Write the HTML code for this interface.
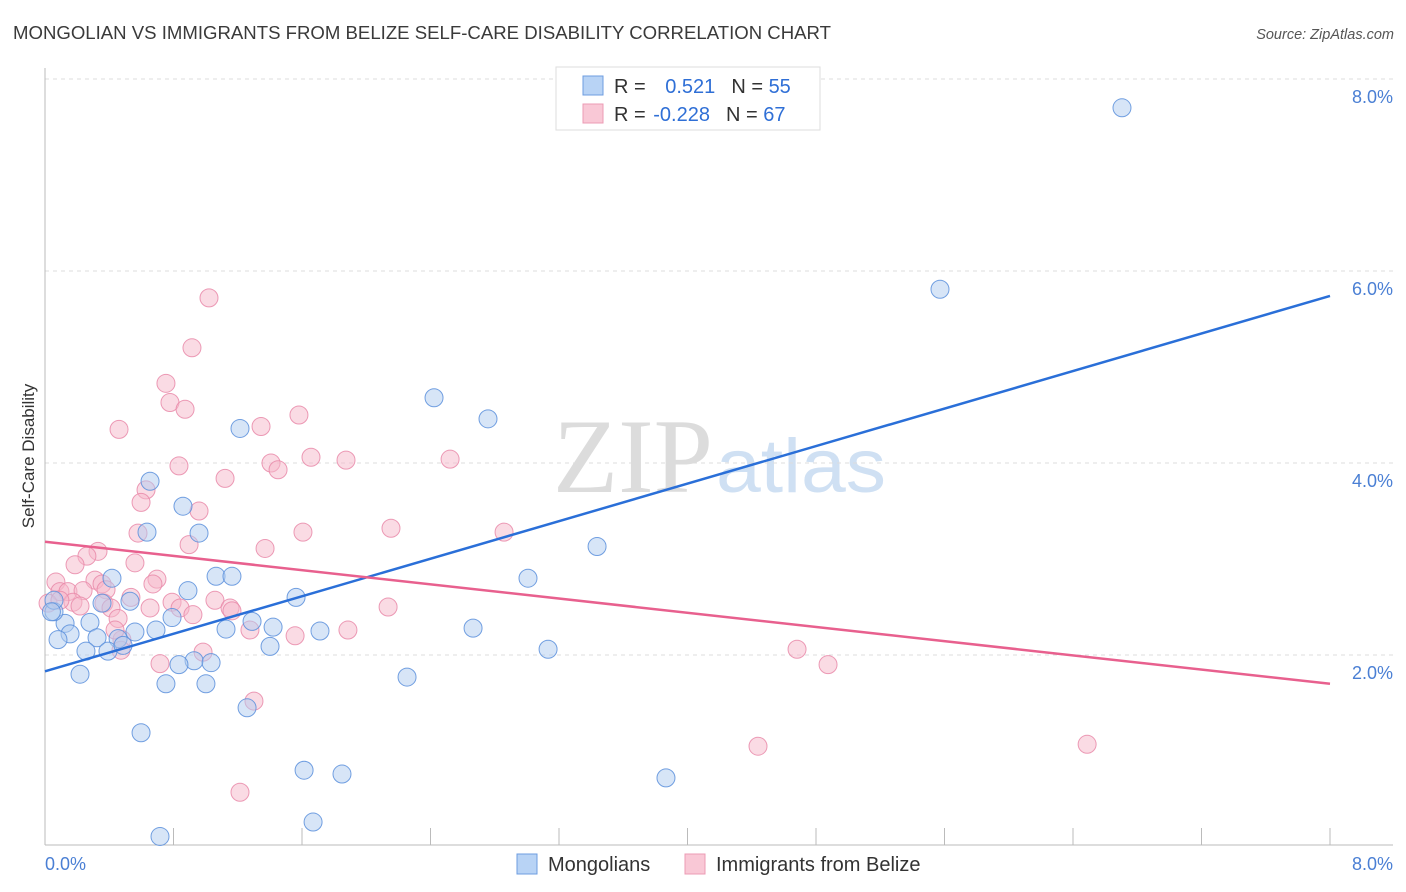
<!DOCTYPE html>
<html><head><meta charset="utf-8"><style>
body{margin:0;background:#fff;font-family:"Liberation Sans",sans-serif}
svg{display:block}
</style></head><body>
<svg id="chart" width="1406" height="892" xmlns="http://www.w3.org/2000/svg">
<text x="13" y="39" font-size="18.5" fill="#3a3a3a" textLength="818" lengthAdjust="spacingAndGlyphs">MONGOLIAN VS IMMIGRANTS FROM BELIZE SELF-CARE DISABILITY CORRELATION CHART</text>
<text x="1394" y="39" font-size="14.5" fill="#555" text-anchor="end" font-style="italic">Source: ZipAtlas.com</text>
<g>
<text x="553" y="492" font-size="106" fill="#dcdcdc" font-family="Liberation Serif,serif" textLength="160" lengthAdjust="spacingAndGlyphs">ZIP</text>
<text x="716" y="492" font-size="76" fill="#cfe0f3" textLength="170" lengthAdjust="spacingAndGlyphs">atlas</text>
</g>
<g id="grid"></g>
<g id="axes"></g>
<g id="marks"></g>
<g>
<rect x="556" y="67" width="264" height="63" fill="#fff" stroke="#ddd"/>
<rect x="583" y="76" width="20" height="19" fill="#b8d3f5" stroke="#6e9de0"/>
<rect x="583" y="104" width="20" height="19" fill="#f9c8d6" stroke="#ec9bb4"/>
<text x="614" y="93" font-size="20" fill="#333">R = <tspan fill="#2f6fd6" dx="14">0.521</tspan><tspan fill="#333" dx="16">N = </tspan><tspan fill="#2f6fd6">55</tspan></text>
<text x="614" y="121" font-size="20" fill="#333">R = <tspan fill="#2f6fd6" dx="2">-0.228</tspan><tspan fill="#333" dx="16">N = </tspan><tspan fill="#2f6fd6">67</tspan></text>
</g>
<text transform="translate(34,456) rotate(-90)" font-size="17" fill="#333" text-anchor="middle">Self-Care Disability</text>
<text x="45" y="870" font-size="18" fill="#4a7fd4">0.0%</text>
<text x="1393" y="870" font-size="18" fill="#4a7fd4" text-anchor="end">8.0%</text>
<g>
<rect x="517" y="854" width="20" height="20" fill="#b8d3f5" stroke="#6e9de0"/>
<text x="548" y="871" font-size="20" fill="#333">Mongolians</text>
<rect x="685" y="854" width="20" height="20" fill="#f9c8d6" stroke="#ec9bb4"/>
<text x="716" y="871" font-size="20" fill="#333">Immigrants from Belize</text>
</g>
</svg>
<script>
const blueX=[6.705,5.572,2.422,2.758,1.214,0.654,0.859,0.959,0.635,3.437,0.417,1.065,1.164,3.007,0.890,1.563,0.355,0.529,0.280,0.125,0.056,0.056,1.289,0.791,2.665,0.560,0.691,1.127,1.420,1.712,0.156,0.324,0.455,0.081,0.255,0.392,0.486,1.401,3.132,0.928,0.834,1.034,0.218,0.753,1.002,2.254,1.258,0.598,1.613,1.849,3.866,0.716,1.669,0.04];
const blueY=[7.70,5.81,4.68,4.46,4.36,3.81,3.55,3.27,3.28,3.13,2.80,2.82,2.82,2.80,2.67,2.60,2.54,2.56,2.34,2.33,2.45,2.57,2.35,2.39,2.28,2.24,2.26,2.27,2.29,2.25,2.22,2.18,2.17,2.16,2.04,2.04,2.10,2.09,2.06,1.94,1.90,1.92,1.80,1.70,1.70,1.77,1.45,1.19,0.80,0.76,0.72,0.11,0.26,2.45];
const pinkX=[1.021,0.915,0.753,0.778,0.872,0.461,1.345,1.581,0.834,1.407,1.451,1.656,1.874,2.522,1.121,0.629,0.598,0.959,0.579,1.606,2.154,2.858,0.897,1.370,0.330,0.261,0.187,0.560,0.311,0.355,0.068,0.093,0.143,0.237,0.380,0.697,0.672,0.535,0.367,0.411,0.654,0.791,1.058,0.841,1.152,0.174,0.218,0.019,0.455,0.479,0.921,1.164,2.136,1.276,1.557,1.886,0.436,0.473,0.984,0.716,1.301,1.214,4.682,4.875,4.439,6.488,0.093];
const pinkY=[5.72,5.20,4.83,4.63,4.56,4.35,4.38,4.50,3.97,4.00,3.93,4.06,4.03,4.04,3.84,3.72,3.59,3.50,3.27,3.28,3.32,3.28,3.15,3.11,3.08,3.03,2.94,2.96,2.78,2.74,2.76,2.66,2.66,2.67,2.68,2.79,2.74,2.60,2.54,2.49,2.49,2.55,2.57,2.49,2.49,2.55,2.51,2.54,2.38,2.16,2.42,2.46,2.50,2.26,2.20,2.26,2.26,2.05,2.03,1.91,1.52,0.57,2.06,1.90,1.05,1.07,2.57];
const blueTrend=[1.83,5.74];
const pinkTrend=[3.18,1.70];
const yTicks=[2,4,6,8];
const yTickLabels=["2.0%","4.0%","6.0%","8.0%"];
const xTicks=[0.8,1.6,2.4,3.2,4.0,4.8,5.6,6.4,7.2,8.0];

const NS="http://www.w3.org/2000/svg";
const sx=v=>45+v*1285/8;
const sy=v=>847-v*96;
function mk(tag,attrs,parent){const e=document.createElementNS(NS,tag);for(const k in attrs)e.setAttribute(k,attrs[k]);document.getElementById(parent).appendChild(e);return e;}

yTicks.forEach((t,i)=>{
  const l=mk('line',{x1:45,x2:1393,y1:sy(t),y2:sy(t),stroke:'#ddd','stroke-dasharray':'4,4'},'grid');
  
  
  const tx=mk('text',{x:1393,y:sy(t)+24,'font-size':18,fill:'#4a7fd4','text-anchor':'end'},'grid');
  tx.textContent=yTickLabels[i];
  
  
});
const xa=mk('line',{x1:45,x2:1393,y1:845,y2:845,stroke:'#bbb'},'axes');


const ya=mk('line',{x1:45,x2:45,y1:68,y2:845,stroke:'#bbb'},'axes');


xTicks.forEach(t=>{
  const l=mk('line',{x1:sx(t),x2:sx(t),y1:828,y2:845,stroke:'#bbb'},'axes');
  
  
});
function dots(X,Y,fill,stroke,name){
  X.forEach((x,i)=>{
    const c=mk('circle',{cx:sx(x),cy:sy(Y[i]),r:9,fill:fill,'fill-opacity':0.5,stroke:stroke,'stroke-width':1,'stroke-opacity':0.85},'marks');
    
    
  });
}
dots(pinkX,pinkY,'#f6b8ca','#e98aa9','belize-point');
dots(blueX,blueY,'#afcbf0','#5a8fdc','mongolian-point');
const bl=mk('line',{x1:sx(0),y1:sy(blueTrend[0]),x2:sx(8),y2:sy(blueTrend[1]),stroke:'#2a6fd8','stroke-width':2.5},'marks');


const pl=mk('line',{x1:sx(0),y1:sy(pinkTrend[0]),x2:sx(8),y2:sy(pinkTrend[1]),stroke:'#e8608e','stroke-width':2.5},'marks');


</script>
</body></html>
